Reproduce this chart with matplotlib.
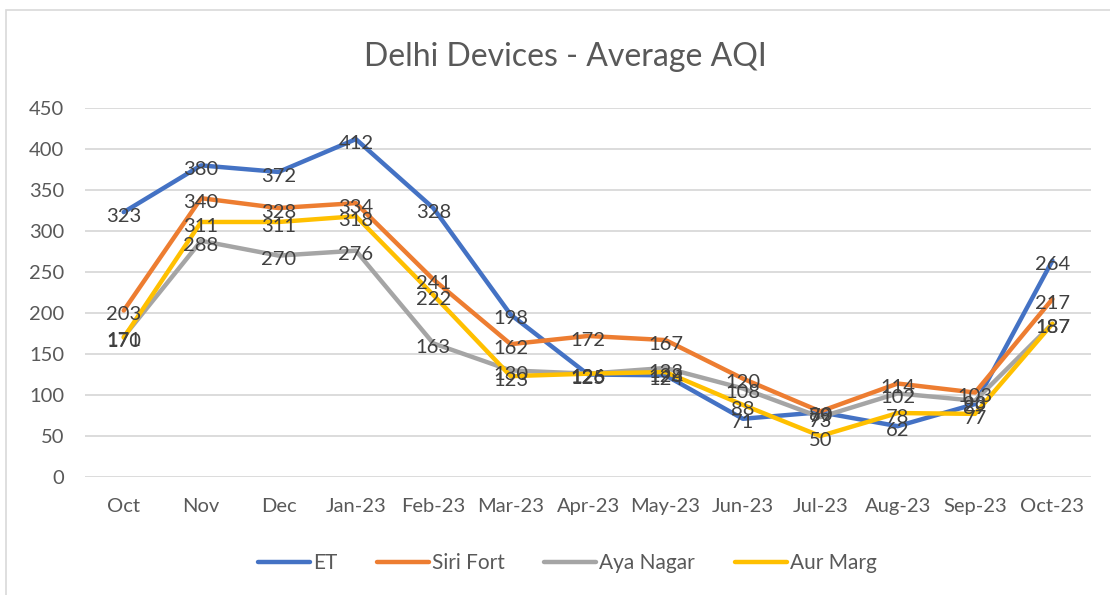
import matplotlib.pyplot as plt
from matplotlib.patches import Rectangle

months = ["Oct", "Nov", "Dec", "Jan-23", "Feb-23", "Mar-23", "Apr-23",
          "May-23", "Jun-23", "Jul-23", "Aug-23", "Sep-23", "Oct-23"]
et = [323, 380, 372, 412, 328, 198, 125, 124, 71, 79, 62, 89, 264]
siri_fort = [203, 340, 328, 334, 241, 162, 172, 167, 120, 80, 114, 103, 217]
aya_nagar = [171, 288, 270, 276, 163, 130, 126, 133, 108, 73, 102, 93, 187]
aur_marg = [170, 311, 311, 318, 222, 123, 126, 128, 88, 50, 78, 77, 187]

series = [("ET", et, "#4472C4"), ("Siri Fort", siri_fort, "#ED7D31"),
          ("Aya Nagar", aya_nagar, "#A5A5A5"), ("Aur Marg", aur_marg, "#FFC000")]

plt.rcParams["font.family"] = ["Lato", "DejaVu Sans"]

fig = plt.figure(figsize=(11.1, 5.95), dpi=100)
ax = fig.add_axes([0.0766, 0.1983, 0.9064, 0.6202])

x = list(range(len(months)))
for name, vals, color in series:
    ax.plot(x, vals, color=color, lw=3.2, label=name, solid_capstyle="round",
            solid_joinstyle="round", zorder=3)
# data labels sit roughly centred on each point, slightly below
for name, vals, color in series:
    for xi, v in zip(x, vals):
        ax.annotate(str(v), (xi, v), xytext=(0, -3), textcoords="offset points",
                    ha="center", va="center", fontsize=14.5, color="#404040",
                    zorder=5)

ax.set_xlim(-0.5, len(months) - 0.5)
ax.set_ylim(0, 450)
ax.set_yticks(range(0, 451, 50))
ax.set_xticks(x)
ax.set_xticklabels(months)
ax.grid(axis="y", color="#D9D9D9", lw=1.3)
ax.set_axisbelow(True)
for s in ax.spines.values():
    s.set_visible(False)
ax.tick_params(length=0, labelsize=14.5, labelcolor="#595959")
ax.tick_params(axis="x", pad=15)
ax.tick_params(axis="y", pad=15)

fig.text(0.509, 0.904, "Delhi Devices - Average AQI", ha="center", va="center",
         fontsize=23, color="#595959")

fig.legend(loc="center", bbox_to_anchor=(0.511, 0.053), ncol=4, frameon=False,
           fontsize=15, handlelength=2.5, columnspacing=1.9, handletextpad=0.15,
           labelcolor="#595959")

fig.patches.append(Rectangle((0.005, -0.01), 1.2, 0.993, transform=fig.transFigure,
                             fill=False, edgecolor="#D9D9D9", lw=1.2))

fig.savefig("out.png", dpi=100)
